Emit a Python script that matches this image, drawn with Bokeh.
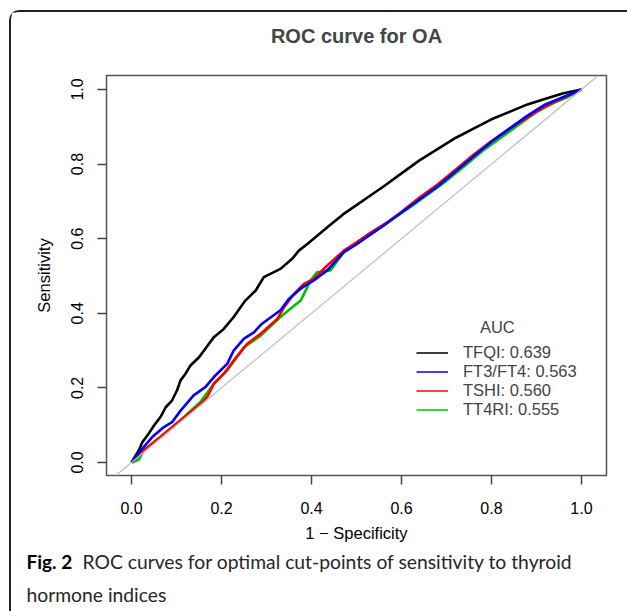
from bokeh.plotting import figure
from bokeh.layouts import column
from bokeh.models import Slope, Legend, LegendItem, Label, FixedTicker, Range1d, PrintfTickFormatter, Title
from bokeh.embed import file_html
from bokeh.resources import INLINE

# ---- data ----
tfqi_x = [0.0, 0.016, 0.024, 0.038, 0.050, 0.064, 0.076, 0.090, 0.101, 0.109, 0.120, 0.131, 0.150,
          0.164, 0.183, 0.205, 0.227, 0.253, 0.276, 0.294, 0.331, 0.357, 0.372, 0.39, 0.41, 0.44,
          0.47, 0.50, 0.53, 0.56, 0.60, 0.64, 0.68, 0.72, 0.76, 0.80, 0.84, 0.88, 0.92, 0.96, 1.0]
tfqi_y = [0.0, 0.032, 0.054, 0.077, 0.099, 0.121, 0.148, 0.166, 0.193, 0.220, 0.238, 0.260, 0.282,
          0.305, 0.336, 0.358, 0.390, 0.434, 0.461, 0.497, 0.519, 0.546, 0.568, 0.585, 0.605, 0.635,
          0.665, 0.69, 0.715, 0.74, 0.775, 0.81, 0.84, 0.87, 0.895, 0.92, 0.94, 0.96, 0.975, 0.99, 1.0]

ft3ft4_x = [0.0, 0.024, 0.046, 0.072, 0.090, 0.109, 0.138, 0.164, 0.183, 0.213, 0.227, 0.250, 0.272,
            0.290, 0.331, 0.350, 0.376, 0.405, 0.435, 0.472, 0.50, 0.53, 0.56, 0.60, 0.64, 0.68,
            0.72, 0.76, 0.80, 0.84, 0.88, 0.92, 0.96, 1.0]
ft3ft4_y = [0.0, 0.037, 0.068, 0.095, 0.108, 0.139, 0.180, 0.202, 0.229, 0.265, 0.300, 0.332, 0.349,
            0.372, 0.408, 0.439, 0.466, 0.488, 0.515, 0.564, 0.585, 0.61, 0.635, 0.67, 0.705, 0.74,
            0.78, 0.82, 0.86, 0.895, 0.93, 0.96, 0.98, 1.0]

tshi_x = [0.0, 0.027, 0.064, 0.109, 0.153, 0.168, 0.183, 0.205, 0.227, 0.257, 0.287, 0.324, 0.339,
          0.361, 0.383, 0.405, 0.435, 0.472, 0.50, 0.53, 0.57, 0.60, 0.64, 0.68, 0.72, 0.76, 0.80,
          0.84, 0.88, 0.92, 0.96, 1.0]
tshi_y = [0.0, 0.032, 0.068, 0.113, 0.157, 0.175, 0.211, 0.238, 0.273, 0.318, 0.345, 0.385, 0.416,
          0.452, 0.479, 0.492, 0.528, 0.568, 0.59, 0.615, 0.645, 0.672, 0.71, 0.745, 0.785, 0.825,
          0.862, 0.895, 0.925, 0.955, 0.978, 1.0]

tt4ri_x = [0.0, 0.016, 0.027, 0.064, 0.109, 0.153, 0.183, 0.213, 0.250, 0.287, 0.331, 0.353, 0.376,
           0.398, 0.412, 0.442, 0.472, 0.50, 0.54, 0.58, 0.62, 0.66, 0.70, 0.74, 0.78, 0.82, 0.86,
           0.90, 0.94, 0.97, 1.0]
tt4ri_y = [0.0, 0.007, 0.032, 0.068, 0.113, 0.162, 0.211, 0.247, 0.309, 0.340, 0.390, 0.412, 0.434,
           0.488, 0.510, 0.515, 0.564, 0.585, 0.62, 0.652, 0.685, 0.72, 0.755, 0.795, 0.835, 0.87,
           0.905, 0.94, 0.965, 0.98, 1.0]

legend_labels = ["TFQI: 0.639", "FT3/FT4: 0.563", "TSHI: 0.560", "TT4RI: 0.555"]
ticks = [0.0, 0.2, 0.4, 0.6, 0.8, 1.0]
caption_bold = "Fig. 2"
caption_line1 = "ROC curves for optimal cut-points of sensitivity to thyroid"
caption_line2 = "hormone indices"

FONT = "Liberation Sans"
CAP_FONT = "Lato"
NAN = float("nan")

p = figure(width=616, height=536, output_backend="svg", toolbar_location=None,
           x_range=Range1d(-0.0556, 1.0556), y_range=Range1d(-0.035, 1.0375),
           min_border_left=95, min_border_right=21, min_border_top=63, min_border_bottom=73,
           title="ROC curve for OA")

p.title.text_font = FONT
p.title.text_font_size = "20px"
p.title.text_font_style = "bold"
p.title.align = "center"
p.title.standoff = 0
# spacer between title and plot box
p.add_layout(Title(text=" ", text_font_size="1px", standoff=26), "above")

p.grid.visible = False
p.outline_line_color = "#555555"
p.outline_line_width = 1.5

for ax in (p.xaxis[0], p.yaxis[0]):
    ax.ticker = FixedTicker(ticks=ticks)
    ax.formatter = PrintfTickFormatter(format="%.1f")
    ax.axis_line_color = None
    ax.major_tick_line_color = "#444444"
    ax.major_tick_line_width = 1.5
    ax.major_tick_out = 9
    ax.major_tick_in = 0
    ax.minor_tick_line_color = None
    ax.major_label_text_font = FONT
    ax.major_label_text_font_size = "16px"
    ax.major_label_text_color = "black"
    ax.axis_label_text_font = FONT
    ax.axis_label_text_font_size = "16.5px"
    ax.axis_label_text_font_style = "normal"
    ax.axis_label_text_color = "black"

p.xaxis.axis_label = "1 \u2212 Specificity"
p.xaxis.major_label_standoff = 17
p.xaxis.axis_label_standoff = 7
p.yaxis.axis_label = "Sensitivity"
p.yaxis.major_label_orientation = "vertical"
p.yaxis.major_label_standoff = 14
p.yaxis.axis_label_standoff = 16

p.add_layout(Slope(gradient=1, y_intercept=0, line_color="#BEBEBE", line_width=1.2))

colors = ["black", "#0000FF", "#FF0000", "#00C000"]
p.line(tfqi_x, tfqi_y, line_color=colors[0], line_width=2.6)
p.line(tt4ri_x, tt4ri_y, line_color=colors[3], line_width=2.6)
p.line(tshi_x, tshi_y, line_color=colors[2], line_width=2.6)
p.line(ft3ft4_x, ft3ft4_y, line_color=colors[1], line_width=2.6)

items = []
for lab, c in zip(legend_labels, colors):
    r = p.line(x=[NAN], y=[NAN], line_color=c, line_width=1.5)
    items.append(LegendItem(label=lab, renderers=[r]))
leg = Legend(items=items, location=(310, 56), padding=0, margin=0, spacing=0,
             label_height=19, glyph_height=19, glyph_width=32, label_standoff=15,
             border_line_color=None, background_fill_alpha=0,
             label_text_font=FONT, label_text_font_size="16.5px")
p.add_layout(leg, "center")

p.add_layout(Label(x=0.813, y=0.362, text="AUC", text_align="center", text_baseline="middle",
                   text_font=FONT, text_font_size="16.5px"))

# caption panel
cap = figure(width=616, height=63, output_backend="svg", toolbar_location=None,
             x_range=Range1d(0, 616), y_range=Range1d(63, 0),
             min_border=0, x_axis_location=None, y_axis_location=None)
cap.grid.visible = False
cap.outline_line_color = None
try:
    cap.title_location = None
except Exception:
    cap.title.text_font_size = "0px"
    cap.title.standoff = 0
for fig in (p, cap):
    try:
        fig.frame_align = False
    except Exception:
        pass
cap.add_layout(Label(x=15, y=13, text=caption_bold, text_font=CAP_FONT, text_font_size="19px",
                     text_font_style="bold", text_color="black", text_baseline="alphabetic"))
cap.add_layout(Label(x=71, y=13, text=caption_line1, text_font=CAP_FONT, text_font_size="19.3px",
                     text_color="#262626", text_baseline="alphabetic"))
cap.add_layout(Label(x=15, y=46, text=caption_line2, text_font=CAP_FONT, text_font_size="19.3px",
                     text_color="#262626", text_baseline="alphabetic"))

lay = column(p, cap, spacing=0,
             styles={"margin-left": "9px", "margin-top": "10px",
                     "border-left": "2px solid #222", "border-top": "2px solid #222",
                     "border-top-left-radius": "10px"})

open("out.html", "w").write(file_html(lay, INLINE))
